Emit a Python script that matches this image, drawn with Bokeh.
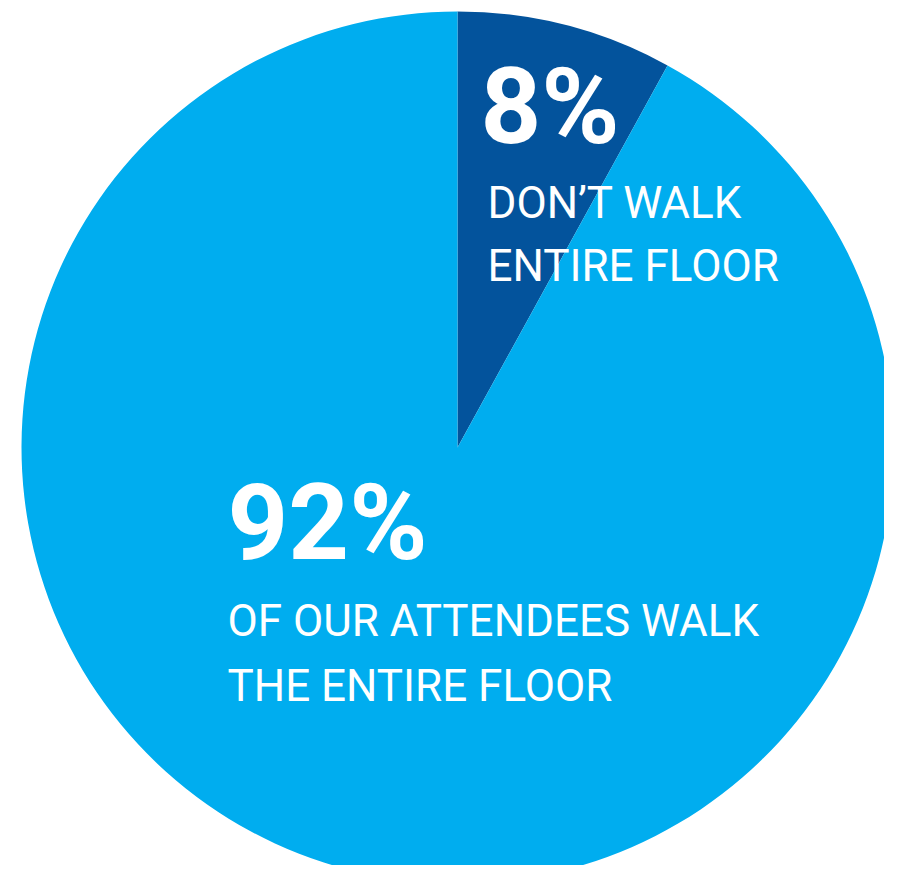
from bokeh.plotting import figure
from bokeh.models import ColumnDataSource
from bokeh.core.properties import value
from bokeh.embed import file_html
from bokeh.resources import INLINE
import math

# ---- data ----
categories = ["Don't walk entire floor", "Walk the entire floor"]
shares = [8, 92]
colors = ["#03539C", "#00ADEF"]
pct_labels = ["8%", "92%"]
desc_lines_small = ["DON\u2019T WALK", "ENTIRE FLOOR"]
desc_lines_big = ["OF OUR ATTENDEES WALK", "THE ENTIRE FLOOR"]

# ---- wedge angles from data (clockwise from 12 o'clock) ----
total = sum(shares)
starts, ends = [], []
top = math.pi / 2
cum = 0.0
for s in shares:
    a0 = top - 2 * math.pi * (cum + s) / total
    a1 = top - 2 * math.pi * cum / total
    starts.append(a0)
    ends.append(a1)
    cum += s

src = ColumnDataSource(dict(cat=categories, val=shares, start=starts, end=ends, color=colors))

W, H = 884, 865
IMG_H = 881
p = figure(width=W, height=H, x_range=(0, W), y_range=(IMG_H - H, IMG_H),
           output_backend="svg", toolbar_location=None, min_border=0)
p.axis.visible = False
p.grid.visible = False
p.outline_line_color = None
p.background_fill_color = "white"
p.border_fill_color = "white"

p.wedge(x=457, y=IMG_H - 447, radius=436, start_angle="start", end_angle="end",
        fill_color="color", line_color=None, direction="anticlock", source=src)

font = value("Roboto")

p.text(x=[480], y=[IMG_H - 106], text=[pct_labels[0]], text_font=font, text_font_size="106px",
       text_font_style="bold", text_color="white", text_baseline="alphabetic", text_align="left")
p.text(x=[487, 487], y=[IMG_H - 202, IMG_H - 265], text=desc_lines_small, text_font=font,
       text_font_size="44px", text_color="white", text_baseline="alphabetic", text_align="left")

p.text(x=[227], y=[IMG_H - 522], text=[pct_labels[1]], text_font=font, text_font_size="106px",
       text_font_style="bold", text_color="white", text_baseline="alphabetic", text_align="left")
p.text(x=[227, 227], y=[IMG_H - 620, IMG_H - 685], text=desc_lines_big, text_font=font,
       text_font_size="44px", text_color="white", text_baseline="alphabetic", text_align="left")

open("out.html", "w").write(file_html(p, INLINE))
